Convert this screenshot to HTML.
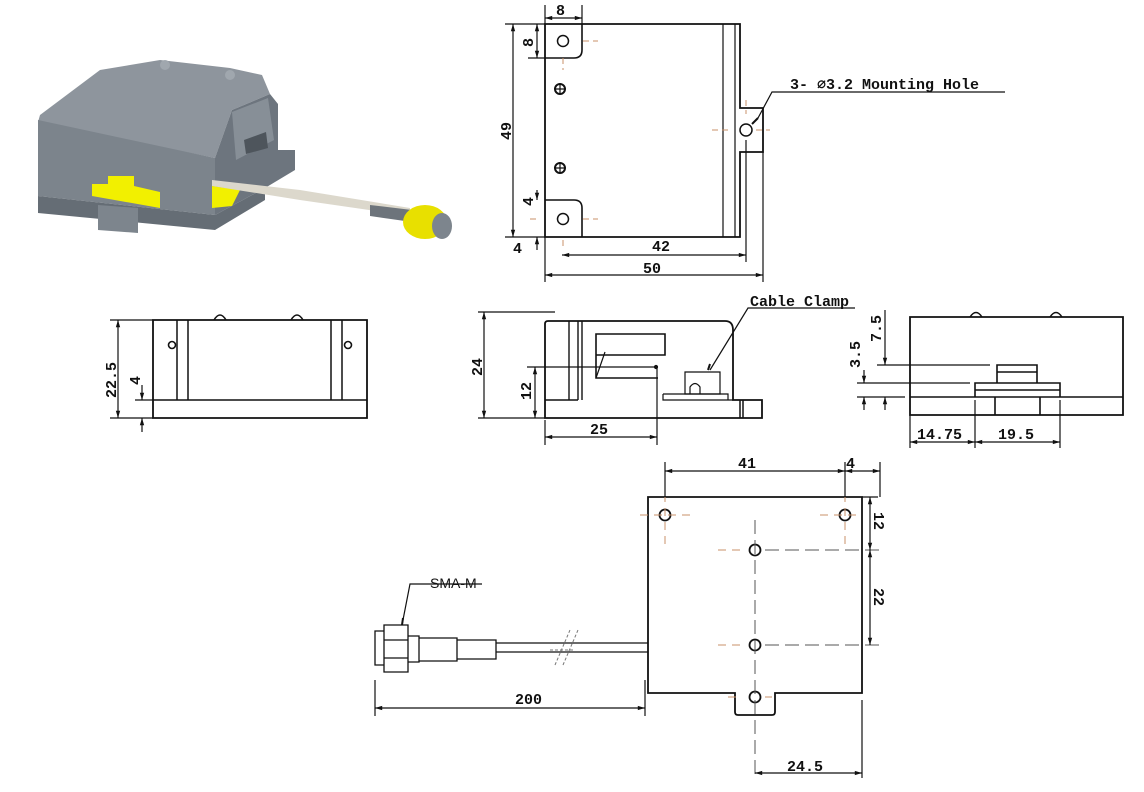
<!DOCTYPE html>
<html><head><meta charset="utf-8"><style>
html,body{margin:0;padding:0;background:#fff;}
svg{display:block}
text{font-family:"Liberation Mono",monospace;font-weight:bold;font-size:15px;fill:#111}
.s{font-family:"Liberation Sans",sans-serif;font-weight:normal;font-size:14px}
</style></head><body>
<svg width="1144" height="792" viewBox="0 0 1144 792" xmlns="http://www.w3.org/2000/svg">
<defs>
<marker id="a" viewBox="0 0 10 10" refX="10" refY="5" markerWidth="9" markerHeight="6" orient="auto-start-reverse"><path d="M0,2 L10,5 L0,8 z" fill="#111"/></marker>
</defs>
<g stroke="#111" fill="none" stroke-width="1.2">

<!-- 3D model -->
<g stroke="none">
<polygon points="40,115 100,70 160,60 230,68 262,75 270,94 232,110 215,158 38,122" fill="#8e959d"/>
<polygon points="38,120 215,158 215,215 38,196" fill="#7c848c"/>
<polygon points="215,158 232,110 270,94 278,104 278,150 295,150 295,170 265,188 215,215" fill="#6d757e"/>
<polygon points="232,112 268,98 274,140 236,160" fill="#878f97"/>
<polygon points="244,140 266,132 268,148 246,154" fill="#4e555c"/>
<polygon points="38,196 215,215 265,188 265,200 215,230 38,213" fill="#656d75"/>
<polygon points="98,205 138,208 138,233 98,230" fill="#7d858d"/>
<polygon points="92,184 108,184 108,176 134,176 134,186 160,192 160,208 92,196" fill="#f2f000"/>
<polygon points="212,186 240,190 232,206 212,208" fill="#f2f000"/>
<polygon points="212,180 300,190 410,208 410,216 300,200 212,186" fill="#dcd8cc"/>
<polygon points="370,205 412,210 412,222 370,216" fill="#6d747b"/>
<ellipse cx="425" cy="222" rx="22" ry="17" fill="#e8e000"/>
<ellipse cx="442" cy="226" rx="10" ry="13" fill="#7d858d"/>
<circle cx="165" cy="65" r="5" fill="#a0a7ae"/>
<circle cx="230" cy="75" r="5" fill="#a0a7ae"/>
</g>

<!-- TOP VIEW -->
<path d="M545,24 H740 V108 H763 V152 H740 V237 H545 Z" stroke-width="1.8"/>
<line x1="723" y1="24" x2="723" y2="237"/><line x1="735" y1="24" x2="735" y2="237"/>
<path d="M545,58 H574 Q582,58 582,50 V24" stroke-width="1.6"/>
<path d="M545,200 H574 Q582,200 582,208 V237" stroke-width="1.6"/>
<circle cx="563" cy="41" r="5.5" stroke-width="1.5"/><circle cx="563" cy="219" r="5.5" stroke-width="1.5"/><circle cx="746" cy="130" r="6" stroke-width="1.5"/>
<circle cx="560" cy="89" r="5" stroke-width="2"/><path d="M555,89 H565 M560,84 V94"/>
<circle cx="560" cy="168" r="5" stroke-width="2"/><path d="M555,168 H565 M560,163 V173"/>
<g stroke="#c8906a" stroke-dasharray="6,4" stroke-width="1"><path d="M583,41 H598 M563,58 V70 M583,219 H598 M530,219 H540 M563,240 V250 M712,130 H728 M756,130 H770 M746,100 V114 M746,145 V160"/></g>
<path d="M545,5 V24 M582,5 V24"/><line x1="545" y1="18" x2="582" y2="18" marker-start="url(#a)" marker-end="url(#a)"/>
<path d="M505,24 H545 M505,237 H545"/><line x1="513" y1="24" x2="513" y2="237" marker-start="url(#a)" marker-end="url(#a)"/>
<path d="M528,58 H545"/><line x1="537" y1="24" x2="537" y2="58" marker-start="url(#a)" marker-end="url(#a)"/>
<line x1="537" y1="190" x2="537" y2="200" marker-end="url(#a)"/><line x1="537" y1="250" x2="537" y2="237" marker-end="url(#a)"/>
<path d="M545,237 V282 M763,152 V282 M746,140 V262"/>
<line x1="562" y1="255" x2="746" y2="255" marker-start="url(#a)" marker-end="url(#a)"/>
<line x1="545" y1="275" x2="763" y2="275" marker-start="url(#a)" marker-end="url(#a)"/>
<path d="M1005,92 H772 L758,118"/><line x1="758" y1="118" x2="752" y2="124" stroke-width="2"/>

<!-- LEFT SIDE VIEW -->
<path d="M153,320 H367 V418 H153 Z" stroke-width="1.8"/><line x1="153" y1="400" x2="367" y2="400" stroke-width="1.5"/>
<path d="M177,320 V400 M188,320 V400 M331,320 V400 M342,320 V400" stroke-width="1.5"/>
<circle cx="172" cy="345" r="3.5" stroke-width="1.6"/><circle cx="348" cy="345" r="3.5" stroke-width="1.6"/>
<path d="M214,320 Q220,310 226,320 M291,320 Q297,310 303,320" stroke-width="1.5"/>
<path d="M110,320 H153 M110,418 H153 M135,400 H153"/>
<line x1="118" y1="320" x2="118" y2="418" marker-start="url(#a)" marker-end="url(#a)"/>
<line x1="142" y1="385" x2="142" y2="400" marker-end="url(#a)"/><line x1="142" y1="432" x2="142" y2="418" marker-end="url(#a)"/>

<!-- FRONT VIEW -->
<path d="M545,324 Q545,321 548,321 H725 Q733,321 733,330 V400 H762 V418 H545 Z" stroke-width="1.8"/>
<path d="M569,321 V400 M578,321 V400 M582,321 V400 M545,400 H578" stroke-width="1.4"/>
<path d="M596,334 H665 V355 H596 Z M596,355 V378 H658" stroke-width="1.6"/>
<path d="M596,378 L605,352"/>
<path d="M663,394 H728 V400 M663,394 V400 H733"/>
<path d="M685,372 H720 V394 H685 Z" /><path d="M690,394 V387 Q695,380 700,387 V394"/>
<path d="M740,400 V418 M743,400 V418" stroke-width="1.5"/>
<circle cx="656" cy="367" r="1.5" fill="#111"/>
<path d="M478,312 H555 M478,418 H545 M527,367 H656 M545,420 V445 M657,367 V445"/>
<line x1="484" y1="312" x2="484" y2="418" marker-start="url(#a)" marker-end="url(#a)"/>
<line x1="535" y1="367" x2="535" y2="418" marker-start="url(#a)" marker-end="url(#a)"/>
<line x1="545" y1="437" x2="657" y2="437" marker-start="url(#a)" marker-end="url(#a)"/>
<path d="M855,308 H748 L710,370"/><line x1="710" y1="364" x2="708" y2="370" stroke-width="2"/>

<!-- RIGHT SIDE VIEW -->
<path d="M910,317 H1123 V415 H910 Z" stroke-width="1.8"/><line x1="910" y1="397" x2="1123" y2="397" stroke-width="1.5"/>
<path d="M975,397 V383 H1060 V397 M997,383 V365 H1037 V383 M997,372 H1037 M975,390 H1060 M995,397 V415 M1040,397 V415" stroke-width="1.6"/>
<path d="M970,317 Q976,308 982,317 M1050,317 Q1056,308 1062,317" stroke-width="1.4"/>
<path d="M877,365 H990 M857,383 H970 M857,397 H905 M910,415 V448 M975,400 V448 M1060,400 V448"/>
<line x1="864" y1="370" x2="864" y2="383" marker-end="url(#a)"/><line x1="864" y1="410" x2="864" y2="397" marker-end="url(#a)"/>
<line x1="885" y1="310" x2="885" y2="365" marker-end="url(#a)"/><line x1="885" y1="410" x2="885" y2="397" marker-end="url(#a)"/>
<line x1="910" y1="442" x2="975" y2="442" marker-start="url(#a)" marker-end="url(#a)"/>
<line x1="975" y1="442" x2="1060" y2="442" marker-start="url(#a)" marker-end="url(#a)"/>

<!-- BOTTOM VIEW -->
<path d="M648,497 H862 V693 H775 V712 Q775,715 772,715 H738 Q735,715 735,712 V693 H648 Z" stroke-width="1.8"/>
<circle cx="665" cy="515" r="5.5" stroke-width="1.8"/><circle cx="845" cy="515" r="5.5" stroke-width="1.8"/>
<circle cx="755" cy="550" r="5.5" stroke-width="1.8"/><circle cx="755" cy="645" r="5.5" stroke-width="1.8"/><circle cx="755" cy="697" r="5.5" stroke-width="1.8"/>
<g stroke="#c8906a" stroke-dasharray="8,6" stroke-width="1"><path d="M640,515 H690 M665,480 V545 M820,515 H860 M845,480 V545 M718,550 H742 M718,645 H742 M728,697 H742 M765,697 H772"/></g>
<g stroke="#555" stroke-dasharray="14,6" stroke-width="1"><path d="M755,520 V780 M765,550 H880 M765,645 H880"/></g>
<path d="M375,631 H384 V665 H375 Z M384,625 H408 V672 H384 Z M384,640 H408 M384,658 H408 M408,636 H419 V662 H408 Z M419,638 H457 V661 H419 Z M457,640 H496 V659 H457 Z" stroke-width="1.3"/>
<path d="M496,643 H648 M496,652 H648" stroke-width="1.3"/>
<g stroke="#777" stroke-dasharray="3,2" stroke-width="1"><path d="M555,665 L570,630 M563,665 L578,630 M550,650 H575"/></g>
<path d="M482,584 H410 L402,625"/><line x1="403" y1="618" x2="402" y2="625" stroke-width="2"/>
<path d="M665,462 V497 M845,462 V497 M880,462 V497 M862,497 H878 M375,680 V716 M645,680 V716 M862,700 V778"/>
<line x1="665" y1="471" x2="845" y2="471" marker-start="url(#a)" marker-end="url(#a)"/>
<line x1="845" y1="471" x2="880" y2="471" marker-start="url(#a)" marker-end="url(#a)"/>
<line x1="870" y1="497" x2="870" y2="550" marker-start="url(#a)" marker-end="url(#a)"/>
<line x1="870" y1="550" x2="870" y2="645" marker-start="url(#a)" marker-end="url(#a)"/>
<line x1="375" y1="708" x2="645" y2="708" marker-start="url(#a)" marker-end="url(#a)"/>
<line x1="755" y1="773" x2="862" y2="773" marker-start="url(#a)" marker-end="url(#a)"/>
</g>

<text x="556" y="15">8</text>
<text x="652" y="251">42</text>
<text x="643" y="273">50</text>
<text x="513" y="253">4</text>
<text transform="translate(511,140) rotate(-90)">49</text>
<text transform="translate(533,47) rotate(-90)">8</text>
<text transform="translate(533,206) rotate(-90)">4</text>
<text x="790" y="89">3- ∅3.2 Mounting Hole</text>
<text x="750" y="306">Cable Clamp</text>
<text transform="translate(116,398) rotate(-90)">22.5</text>
<text transform="translate(140,385) rotate(-90)">4</text>
<text transform="translate(482,376) rotate(-90)">24</text>
<text transform="translate(531,400) rotate(-90)">12</text>
<text x="590" y="434">25</text>
<text transform="translate(860,368) rotate(-90)">3.5</text>
<text transform="translate(881,342) rotate(-90)">7.5</text>
<text x="917" y="439">14.75</text>
<text x="998" y="439">19.5</text>
<text x="738" y="468">41</text>
<text x="846" y="468">4</text>
<text transform="translate(874,512) rotate(90)">12</text>
<text transform="translate(874,588) rotate(90)">22</text>
<text x="515" y="704">200</text>
<text x="787" y="771">24.5</text>
<text x="430" y="588" class="s">SMA-M</text>
</svg>
</body></html>
